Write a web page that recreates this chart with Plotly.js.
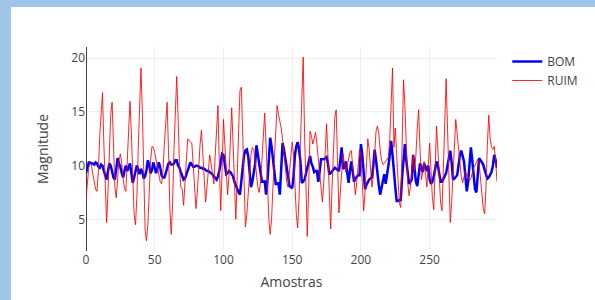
<!DOCTYPE html>
<html>
<head>
<meta charset="utf-8">
<script src="https://cdn.plot.ly/plotly-3.0.1.min.js"></script>
<style>
body{margin:0;background:#9fc5e8;overflow:hidden;}
#chart{position:absolute;left:11px;top:7px;width:620px;height:330px;background:#fff;}
</style>
</head>
<body>
<div id="chart"></div>
<script>
const seriesNames = ["BOM", "RUIM"];
const bom = [
9.3,9.9,10.3,10.3,10.2,10.2,10.1,10.3,10.2,9.9,
9.8,10.1,10.0,9.5,9.0,8.7,9.5,10.2,10.0,9.3,
8.9,8.7,9.6,10.7,10.2,9.9,9.3,8.9,9.5,10.0,
9.5,9.8,10.2,9.3,8.4,8.9,9.6,10.0,9.6,9.2,
9.7,9.4,8.8,9.0,9.6,10.5,10.0,9.3,9.6,10.3,
9.8,9.3,9.8,10.3,9.8,9.1,8.9,8.9,9.3,9.8,
10.2,10.3,10.1,10.1,10.2,10.5,10.5,10.0,9.8,9.4,
9.0,8.7,8.8,9.2,9.7,10.1,10.3,10.1,9.9,9.9,
10.0,10.0,9.9,9.8,9.8,9.7,9.7,9.6,9.5,9.5,
9.4,9.3,9.2,9.0,8.8,8.7,9.0,9.5,10.3,11.1,
11.0,10.0,9.2,9.3,9.5,9.4,9.2,9.0,8.5,8.1,
7.8,7.5,7.3,8.5,10.3,11.0,11.4,11.5,10.9,9.5,
8.0,8.5,9.5,10.1,11.9,11.0,9.9,9.2,8.5,8.5,
8.6,7.3,8.5,10.5,12.6,11.8,10.6,9.5,8.3,8.3,
8.4,7.3,9.5,12.1,11.5,10.5,9.9,9.0,8.1,8.0,
7.9,9.0,11.0,11.8,12.2,11.5,10.4,8.4,8.5,8.7,
9.3,10.0,10.5,10.9,10.2,9.9,9.4,9.5,9.5,8.5,
9.5,10.6,10.6,10.6,10.7,10.8,10.2,9.2,9.3,9.5,
9.6,9.8,9.7,9.6,9.5,10.5,11.7,9.7,9.8,10.4,
9.5,8.4,9.5,10.4,9.5,8.5,8.8,9.0,9.1,9.1,
12.0,11.0,9.1,7.8,8.2,8.5,8.7,8.8,8.9,10.0,
11.5,10.5,9.1,8.2,7.3,8.0,8.8,9.2,8.3,9.0,
10.0,11.0,12.3,11.0,9.8,8.0,6.7,6.7,6.8,6.8,
9.0,11.0,12.0,10.5,9.0,8.3,8.5,8.7,11.0,9.5,
8.5,8.1,9.5,10.2,9.8,9.4,10.2,9.8,9.5,10.0,
8.7,8.3,8.5,9.0,9.8,10.4,10.0,9.2,8.5,8.5,
8.8,9.1,9.3,10.0,10.8,11.4,10.3,8.7,8.8,9.0,
9.1,10.0,11.0,11.4,10.9,10.4,9.0,7.6,8.5,10.2,
11.7,10.5,9.0,7.8,7.5,9.0,10.7,10.5,10.3,10.1,
9.6,9.2,8.8,8.9,9.2,9.4,10.0,11.0,10.5,9.8
];
const ruim = [
6.9,8.5,9.8,10.3,10.0,9.2,8.4,7.8,7.6,9.5,
12.8,15.5,16.8,12.0,7.0,4.7,7.5,11.5,14.8,15.9,
12.0,8.0,7.0,8.5,10.5,11.1,10.2,8.8,7.9,7.6,
10.5,14.2,16.0,13.0,8.5,5.5,4.5,7.0,11.5,16.0,
19.1,15.0,8.0,4.0,3.0,4.5,7.5,10.5,11.8,11.7,
11.2,10.5,9.8,9.0,8.5,8.3,9.5,12.0,14.5,15.9,
11.5,6.0,3.6,6.5,11.5,16.0,18.3,14.5,10.0,8.0,
7.8,6.3,8.0,10.5,12.5,12.3,12.2,12.1,10.0,7.5,
6.0,7.5,10.0,12.0,13.3,11.0,8.0,6.6,8.0,9.8,
11.0,10.2,9.0,8.3,11.0,14.0,15.6,10.0,5.8,9.5,
14.3,12.0,9.0,7.3,9.0,12.5,15.4,12.0,7.5,5.0,
9.0,14.0,17.0,17.3,12.5,7.0,4.3,5.5,7.5,9.5,
11.0,11.7,11.5,10.5,9.0,8.0,7.5,8.5,10.5,13.0,
14.9,12.0,8.0,5.0,3.6,5.0,8.0,11.0,14.0,15.6,
14.8,14.2,13.5,12.5,11.0,9.5,8.5,8.0,9.5,11.0,
12.2,11.0,8.0,5.5,4.2,7.0,12.0,17.0,20.1,13.0,
7.0,3.4,8.0,13.2,12.8,12.0,12.5,13.1,12.0,10.5,
9.0,7.5,6.6,8.5,11.5,13.9,11.0,7.0,4.1,8.0,
12.0,14.5,15.2,10.0,5.6,7.5,9.5,11.1,10.2,9.4,
10.0,10.8,11.2,11.4,10.0,8.5,7.3,8.5,10.0,11.5,
11.0,8.0,5.8,7.5,10.5,12.5,11.5,9.5,8.0,9.0,
11.5,13.2,13.7,13.0,11.5,10.5,10.1,10.2,10.4,10.6,
10.8,12.5,16.5,19.1,11.7,13.5,11.0,8.0,6.5,6.1,
11.0,18.0,15.5,11.0,8.5,7.2,8.0,9.5,11.0,9.5,
11.0,13.5,15.2,11.5,8.7,9.5,10.4,9.2,8.0,10.0,
12.1,9.5,7.0,5.9,9.0,13.7,11.5,8.5,6.5,5.8,
9.5,14.5,18.1,13.5,8.0,4.7,6.5,9.5,12.5,14.3,
13.0,11.5,10.0,9.0,8.4,9.0,9.5,9.2,8.8,8.6,
8.8,9.3,9.8,10.0,10.4,10.6,10.2,9.0,7.5,6.0,
5.5,8.0,12.0,14.7,12.5,11.7,11.5,11.8,10.5,8.5
];
const samples = bom.map((_, i) => i);

const traces = [
  {x: samples, y: bom, type: 'scatter', mode: 'lines', name: seriesNames[0],
   line: {color: '#0000ff', width: 2.5}},
  {x: samples, y: ruim, type: 'scatter', mode: 'lines', name: seriesNames[1],
   line: {color: '#ff0000', width: 1}, opacity: 0.85}
];
const layout = {
  width: 620, height: 330,
  margin: {l: 75, r: 134, t: 40, b: 86},
  paper_bgcolor: '#fff', plot_bgcolor: '#fff',
  font: {family: '"Open Sans", verdana, arial, sans-serif', color: '#444', size: 12},
  xaxis: {title: {text: 'Amostras', font: {size: 14}, standoff: 10}, automargin: true, dtick: 50, gridcolor: '#eee'},
  yaxis: {title: {text: 'Magnitude', font: {size: 14}}, dtick: 5, gridcolor: '#eee', zeroline: false},
  legend: {x: 1.025, y: 1}
};
Plotly.newPlot('chart', traces, layout, {displayModeBar: false, staticPlot: true});
</script>
</body>
</html>
